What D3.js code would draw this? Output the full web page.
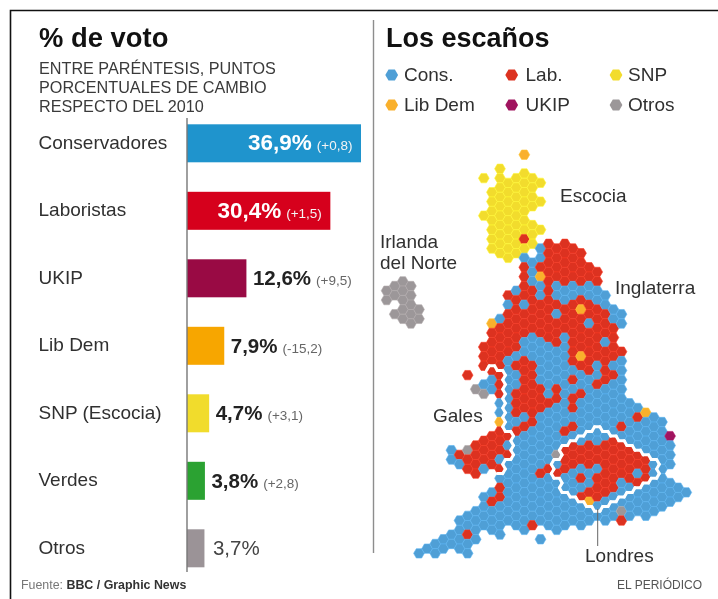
<!DOCTYPE html>
<html lang="es">
<head>
<meta charset="utf-8">
<title>% de voto y escaños</title>
<script src="https://cdn.jsdelivr.net/npm/d3@7/dist/d3.min.js"></script>
<style>
html,body{margin:0;padding:0;background:#fff;overflow:hidden}
svg{display:block;font-family:"Liberation Sans",Arial,Helvetica,sans-serif;filter:blur(0.45px)}
</style>
</head>
<body>
<svg id="c" width="718" height="599" viewBox="0 0 718 599"></svg>
<script>
// ---- Bars ----
const parties  = ["Conservadores","Laboristas","UKIP","Lib Dem","SNP (Escocia)","Verdes","Otros"];
const votes    = [36.9,30.4,12.6,7.9,4.7,3.8,3.7];
const voteText = ["36,9%","30,4%","12,6%","7,9%","4,7%","3,8%","3,7%"];
const changes  = ["(+0,8)","(+1,5)","(+9,5)","(-15,2)","(+3,1)","(+2,8)",""];
const barColors= ["#1f94cd","#d6001c","#990a44","#f7a600","#f1dc2c","#2ba232","#9b9397"];
const subtitle = ["ENTRE PARÉNTESIS, PUNTOS","PORCENTUALES DE CAMBIO","RESPECTO DEL 2010"];

// ---- Legend ----
const seatCodes  = ["C","L","S","D","U","O"];
const seatNames  = ["Cons.","Lab.","SNP","Lib Dem","UKIP","Otros"];
const seatColors = ["#4f9fd6","#dc3220","#f2dc2d","#f9b02c","#a0145f","#9c9799"];

// ---- Seat map: one entry per hexagon column, "firstRow:cells" runs ----
const seatColumns = [
 "14:OO",
 "14:OO 17:O",
 "13:OOOOO",
 "14:OOOOO",
 "16:OO 42:C",
 "42:C",
 "41:CC",
 "41:CC",
 "31:CC 40:CC",
 "32:LC 39:CCCC",
 "23:L 31:OLL 38:CCLCC",
 "25:O 31:LLLL 38:CCCC",
 "2:S 6:S 20:LLL 24:CO 30:LLLC 36:CCCC",
 "4:SSSSSSS 18:DLLLLL 24:CC 30:LLLL 36:CLCCC",
 "1:SSSSSSSSSS 17:CLLLLLLLLCCDLLLCLCLLCCCC",
 "3:SSSSSSSSS 15:LCLLLLLCCCCCCCCLCLCCCCCCC",
 "2:SSSSSSSSS 14:CLLLLLLCLCCLLLCLCCCCCCCCCC",
 "0:D 2:SSSSSSSLSCLLLLCLLLCCLLLLLLCLCCCCCCCCCCC",
 "2:SSSS 7:SSS 11:CCCLLLLLCCCLLLLLLLCCCCCCCCCCL",
 "3:S 5:S 8:S 10:CCLDCCLLLLCCCCCLLLCCCCCCLCCCCC 41:C",
 "9:LLLLLLLLLLLCCCCCCLCCCCCCLCCCCCC",
 "10:LLLLCCLCLLLCCCCLLCCCCCOCLCCCCCC",
 "9:LLLLLCCLLLCCCCCCCCCCLCLLLCCCCCC",
 "10:LLLLCCLLLLLLLCLCLLCLCLLLCCCCCC",
 "10:LLLLCLDLLLLDLCCLCCCCCLLCLCLCCC",
 "12:LLCCLLCLLLLLCCCCCCCLLLCCLDCC",
 "12:LLCCLLLLLLCCLCCCCCCLLCLLLCC",
 "15:CCLLLCLLLLCCCCCCLLLLLLCCC",
 "16:CCLLLLCLCCCCCCLLLLLLCCC",
 "17:CC 21:LCCCCCCCLCLLLLCCCOL",
 "26:CCCCCLLLLCCCC",
 "27:CLCCCLLCLCCC",
 "27:DCCCCLLLCCCC",
 "28:CCCCCCCCCCC",
 "28:CCCCCCCCCC",
 "30:UCCC 35:CCC",
 "35:CC",
 "36:C"
];
const walesCells = ["8:31-32","9:32-33","10:31-33","11:25-25","11:31-34","12:24-25","12:30-33",
                    "13:23-25","13:30-33","14:23-33","15:30-32"];
const londonCells = ["21:33-34","22:31-35","23:31-36","24:30-36","25:30-37","26:29-37","27:30-37",
                     "28:30-36","29:31-36","30:31-35","31:32-35","32:32-34","33:33-34"];

const mapLabels = [
 {lines:["Escocia"],x:560,y:202},
 {lines:["Irlanda","del Norte"],x:380,y:248},
 {lines:["Inglaterra"],x:615,y:294},
 {lines:["Gales"],x:433,y:422},
 {lines:["Londres"],x:585,y:562}
];

const svg = d3.select("#c");
const ink = "#303030";

// frame
svg.append("path").attr("d","M10.5,599V10.5H718").attr("fill","none").attr("stroke","#111").attr("stroke-width",1.6);
svg.append("line").attr("x1",373.5).attr("x2",373.5).attr("y1",20).attr("y2",553).attr("stroke","#8d8d8d").attr("stroke-width",1.4);

// titles
svg.append("text").text("% de voto").attr("x",39).attr("y",47).attr("font-size",27.4).attr("font-weight",700).attr("fill","#111");
svg.append("text").text("Los escaños").attr("x",386).attr("y",46.5).attr("font-size",27).attr("font-weight",700).attr("fill","#111");
svg.append("g").selectAll("text").data(subtitle).join("text")
  .text(d=>d).attr("x",39).attr("y",(d,i)=>73.5+i*19.3).attr("font-size",16.2).attr("fill","#3a3a3a");

// bars
const xBar = d3.scaleLinear().domain([0,36.9]).range([187,361]);
const yBar = d3.scaleBand().domain(parties).range([124.3,124.3+67.5*6+38]).paddingInner(1-38/67.5).paddingOuter(0);

const rows = svg.append("g").selectAll("g").data(parties).join("g");
rows.append("text").text(d=>d).attr("x",38.5).attr("y",d=>yBar(d)+24.3)
  .attr("font-size",19).attr("fill",ink);
rows.append("rect").attr("x",xBar(0)).attr("y",d=>yBar(d)).attr("height",yBar.bandwidth())
  .attr("width",(d,i)=>xBar(votes[i])-xBar(0)).attr("fill",(d,i)=>barColors[i]);
rows.each(function(d,i){
  const inside = i<2, g=d3.select(this);
  const t = g.append("text").attr("y",yBar(d)+26)
    .attr("x", inside ? xBar(votes[i])-8.5 : xBar(votes[i])+(i<6?6.5:8.5))
    .attr("text-anchor", inside ? "end":"start");
  t.append("tspan").text(voteText[i]).attr("font-size",inside?22.5:20.5)
    .attr("font-weight",i<6?700:400).attr("fill",inside?"#fff":(i<6?"#222":"#444"));
  if(changes[i]) t.append("tspan").text(changes[i]).attr("dx",5).attr("font-size",13.5)
    .attr("fill",inside?"#f4f4f4":"#666");
});
svg.append("line").attr("x1",xBar(0)).attr("x2",xBar(0)).attr("y1",118).attr("y2",572).attr("stroke","#777").attr("stroke-width",1.4);

// hex helpers
const xHex = d3.scaleLinear().domain([0,37]).range([386.6,386.6+8.1*37]);
const yHex = d3.scaleLinear().domain([0,42]).range([154.7,154.7+9.38*42]);
const R = 8.1/1.5, H = 9.38/2;
const cx = p => xHex(p);
const cy = (p,k) => yHex(k + (p%2===0 ? 0.5 : 0));
const corners = [[-R,0],[-R/2,-H],[R/2,-H],[R,0],[R/2,H],[-R/2,H]];
const hexLine = d3.line();

// expand columns into cells
const cells = [];
seatColumns.forEach((col,p)=>col.split(" ").forEach(run=>{
  const [start,str] = run.split(":");
  [...str].forEach((c,i)=>cells.push({p,k:+start+i,party:c}));
}));
const key = (p,k)=>p+"_"+k;
const land = new Set(cells.map(d=>key(d.p,d.k)));
const color = d3.scaleOrdinal().domain(seatCodes).range(seatColors);

svg.append("g").selectAll("path").data(cells).join("path")
  .attr("d",d=>hexLine(corners.map(([a,b])=>[cx(d.p)+a,cy(d.p,d.k)+b]))+"Z")
  .attr("fill",d=>color(d.party))
  .attr("stroke",d=>d3.color(color(d.party)).brighter(0.35))
  .attr("stroke-width",0.6);

// region outlines: the edges between a region and neighbouring land
function neighbours(p,k){
  const even = p%2===0;
  const a = even ? k : k-1, b = even ? k+1 : k;
  return [
    {p:p-1,k:a,e:[0,1]},{p,k:k-1,e:[1,2]},{p:p+1,k:a,e:[2,3]},
    {p:p+1,k:b,e:[3,4]},{p,k:k+1,e:[4,5]},{p:p-1,k:b,e:[5,0]}
  ];
}
function outline(spec){
  const set = new Set();
  spec.forEach(s=>{
    const [p,r]=s.split(":"); const [a,b]=r.split("-").map(Number);
    d3.range(a,b+1).forEach(k=>set.add(key(+p,k)));
  });
  const segs=[];
  set.forEach(id=>{
    const [p,k]=id.split("_").map(Number);
    neighbours(p,k).forEach(n=>{
      if(!set.has(key(n.p,n.k)) && land.has(key(n.p,n.k))){
        segs.push(n.e.map(i=>[cx(p)+corners[i][0],cy(p,k)+corners[i][1]]));
      }
    });
  });
  svg.append("g").selectAll("path").data(segs).join("path")
    .attr("d",d=>hexLine(d)).attr("fill","none").attr("stroke","#fff")
    .attr("stroke-width",3).attr("stroke-linecap","round");
}
outline(walesCells);
outline(londonCells);

// legend
const legX = [391.7,511.7,616], legT=[404,525.5,628], legY=[75,105];
const legend = svg.append("g").selectAll("g").data(seatCodes).join("g");
legend.append("path")
  .attr("d",(d,i)=>{const m=i%3,n=Math.floor(i/3),r=6.4,h=5.6;
     return hexLine([[-r,0],[-r/2,-h],[r/2,-h],[r,0],[r/2,h],[-r/2,h]].map(([a,b])=>[legX[m]+a,legY[n]+b]))+"Z";})
  .attr("fill",d=>color(d));
legend.append("text").text((d,i)=>seatNames[i])
  .attr("x",(d,i)=>legT[i%3]).attr("y",(d,i)=>legY[Math.floor(i/3)]+6.3)
  .attr("font-size",19).attr("fill",ink);

// map labels
const lab = svg.append("g").selectAll("text").data(mapLabels).join("text")
  .attr("x",d=>d.x).attr("y",d=>d.y).attr("font-size",19).attr("fill",ink);
lab.selectAll("tspan").data(d=>d.lines.map((l,i)=>({l,i,x:d.x}))).join("tspan")
  .text(d=>d.l).attr("x",d=>d.x).attr("dy",d=>d.i?21:0);
svg.append("line").attr("x1",597.7).attr("x2",597.7).attr("y1",509).attr("y2",546).attr("stroke","#666").attr("stroke-width",1);

// footer
const f = svg.append("text").attr("x",21).attr("y",589).attr("font-size",12.4);
f.append("tspan").text("Fuente: ").attr("fill","#777");
f.append("tspan").text("BBC / Graphic News").attr("font-weight",700).attr("fill","#333");
svg.append("text").text("EL PERIÓDICO").attr("x",702).attr("y",589).attr("text-anchor","end").attr("font-size",12).attr("fill","#555");
</script>
</body>
</html>
